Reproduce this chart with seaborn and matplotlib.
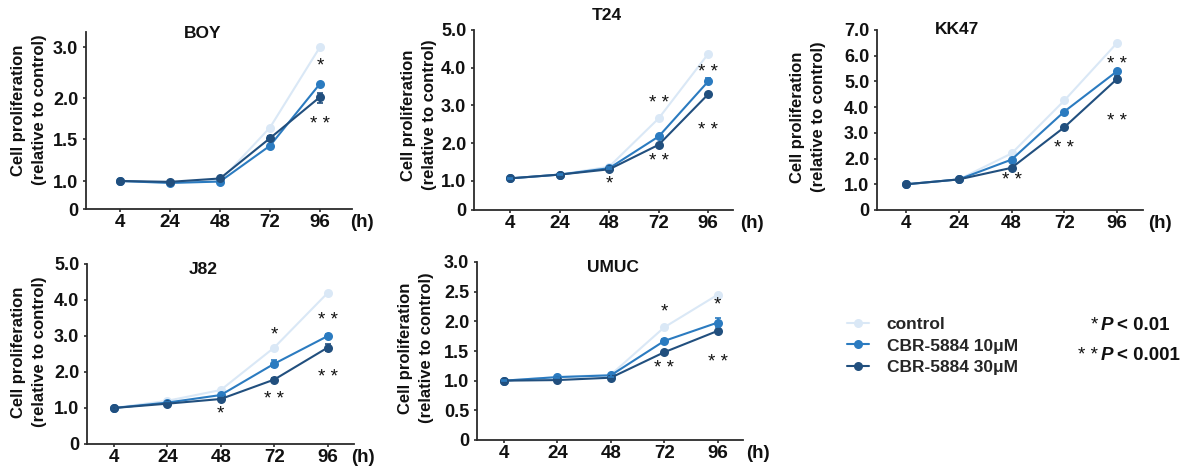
import numpy as np
import pandas as pd
import matplotlib
matplotlib.use("Agg")
import matplotlib.pyplot as plt
from matplotlib.lines import Line2D
import seaborn as sns

# ---------------- data ----------------
times = ["4", "24", "48", "72", "96"]
groups = ["control", "CBR-5884 10μM", "CBR-5884 30μM"]

boy_control = [1.00, 0.95, 1.00, 1.64, 3.00]
boy_10 = [1.00, 0.93, 0.98, 1.42, 2.28]
boy_30 = [1.00, 0.97, 1.03, 1.51, 2.02]
boy_err30 = [0.02, 0.02, 0.02, 0.03, 0.08]

t24_control = [1.07, 1.17, 1.38, 2.66, 4.37]
t24_10 = [1.07, 1.17, 1.34, 2.18, 3.64]
t24_30 = [1.07, 1.17, 1.31, 1.96, 3.30]
t24_err10 = [0.02, 0.02, 0.03, 0.05, 0.08]

kk47_control = [1.00, 1.19, 2.20, 4.26, 6.50]
kk47_10 = [1.00, 1.19, 1.96, 3.83, 5.40]
kk47_30 = [1.00, 1.19, 1.64, 3.22, 5.10]
kk47_err30 = [0.03, 0.03, 0.05, 0.06, 0.10]

j82_control = [1.00, 1.20, 1.50, 2.68, 4.20]
j82_10 = [1.00, 1.15, 1.36, 2.23, 3.00]
j82_30 = [1.00, 1.12, 1.25, 1.79, 2.68]
j82_err10 = [0.02, 0.02, 0.03, 0.10, 0.06]
j82_err30 = [0.02, 0.02, 0.03, 0.04, 0.10]

umuc_control = [1.00, 1.06, 1.10, 1.90, 2.45]
umuc_10 = [1.00, 1.06, 1.09, 1.67, 1.98]
umuc_30 = [1.00, 1.01, 1.05, 1.48, 1.84]
umuc_err10 = [0.01, 0.01, 0.02, 0.03, 0.07]

# significance marks: (time index, y value, text)
boy_sig = [(4, 2.62, "*"), (4, 1.68, "* *")]
t24_sig = [(2, 0.90, "*"), (3, 3.05, "* *"), (3, 1.51, "* *"), (4, 3.87, "* *"), (4, 2.35, "* *")]
kk47_sig = [(2, 1.13, "* *"), (3, 2.41, "* *"), (4, 5.64, "* *"), (4, 3.43, "* *")]
j82_sig = [(2, 0.83, "*"), (3, 3.04, "*"), (3, 1.25, "* *"), (4, 3.44, "* *"), (4, 1.86, "* *")]
umuc_sig = [(3, 2.16, "*"), (3, 1.20, "* *"), (4, 2.27, "*"), (4, 1.31, "* *")]

# ---------------- style ----------------
colors = ["#dae8f6", "#2b7bc0", "#214f7e"]
sns.set_theme(style="ticks")
plt.rcParams["font.family"] = ["Liberation Sans", "DejaVu Sans"]
plt.rcParams["font.weight"] = "bold"

W, H = 1191, 474
fig = plt.figure(figsize=(W / 100, H / 100), dpi=100)


def rect(l, t, r, b):
    return [l / W, 1 - b / H, (r - l) / W, (b - t) / H]


def piecewise(vals, pos):
    vals = np.asarray(vals, float)
    pos = np.asarray(pos, float)

    def fwd(v):
        return np.interp(v, vals, pos)

    def inv(p):
        return np.interp(p, pos, vals)

    return fwd, inv


panels = [
    dict(name="BOY", series=[boy_control, boy_10, boy_30], err={2: boy_err30},
         sig=boy_sig, rect=(86, 32, 352, 209), xlim=(-0.68, 4.64), ylim=(0, 3.3),
         yticks=[0, 1.0, 1.5, 2.0, 3.0],
         scale=([0, 1, 1.5, 2, 3, 3.3], [0, 28, 70, 111, 162, 177]),
         title_xy=(203, 33), label_xy=(29, 110), hx=4.84),
    dict(name="T24", series=[t24_control, t24_10, t24_30], err={1: t24_err10},
         sig=t24_sig, rect=(474, 30, 733, 210), xlim=(-0.73, 4.5), ylim=(0, 5.0),
         yticks=[0, 1.0, 2.0, 3.0, 4.0, 5.0],
         scale=([0, 1, 5], [0, 29, 180]),
         title_xy=(607, 16), label_xy=(419, 115), hx=4.89),
    dict(name="KK47", series=[kk47_control, kk47_10, kk47_30], err={2: kk47_err30},
         sig=kk47_sig, rect=(877, 30, 1143, 210), xlim=(-0.55, 4.49), ylim=(0, 7.0),
         yticks=[0, 1.0, 2.0, 3.0, 4.0, 5.0, 6.0, 7.0], scale=None,
         title_xy=(957, 29), label_xy=(808, 117), hx=4.82),
    dict(name="J82", series=[j82_control, j82_10, j82_30], err={1: j82_err10, 2: j82_err30},
         sig=j82_sig, rect=(87, 264, 354, 444), xlim=(-0.5, 4.49), ylim=(0, 5.0),
         yticks=[0, 1.0, 2.0, 3.0, 4.0, 5.0], scale=None,
         title_xy=(203, 270), label_xy=(29, 352), hx=4.65),
    dict(name="UMUC", series=[umuc_control, umuc_10, umuc_30], err={1: umuc_err10},
         sig=umuc_sig, rect=(477, 262, 743, 440), xlim=(-0.5, 4.47), ylim=(0, 3.0),
         yticks=[0, 0.5, 1.0, 1.5, 2.0, 2.5, 3.0], scale=None,
         title_xy=(613, 267), label_xy=(416, 348), hx=4.75),
]

spine_c = "#2b2b2b"
for p in panels:
    ax = fig.add_axes(rect(*p["rect"]))
    if p["scale"] is not None:
        fwd, inv = piecewise(*p["scale"])
        ax.set_yscale("function", functions=(fwd, inv))
    rows = []
    for g, vals in zip(groups, p["series"]):
        for i, v in enumerate(vals):
            rows.append({"idx": i, "value": v, "group": g})
    df = pd.DataFrame(rows)
    sns.lineplot(data=df, x="idx", y="value", hue="group", hue_order=groups,
                 palette=colors, marker="o", markersize=6.5, markeredgewidth=0,
                 linewidth=1.5, legend=False, ax=ax, errorbar=None)
    for gi, e in p["err"].items():
        ax.errorbar(range(len(times)), p["series"][gi], yerr=e, fmt="none",
                    ecolor=colors[gi], elinewidth=1.3, capsize=2, capthick=1.2, zorder=5)
    for (xi, yv, txt) in p["sig"]:
        ax.text(xi, yv, txt, ha="center", va="center", fontsize=13.5,
                fontweight="normal", color="#111111")
    ax.set_xlim(*p["xlim"])
    ax.set_ylim(*p["ylim"])
    ax.set_xticks(range(len(times)))
    ax.set_xticklabels(times, fontsize=13.5, fontweight="bold")
    ax.set_yticks(p["yticks"])
    ax.set_yticklabels(["0" if t == 0 else f"{t:.1f}" for t in p["yticks"]],
                       fontsize=13, fontweight="bold")
    ax.yaxis.set_minor_locator(matplotlib.ticker.NullLocator())
    ax.set_xlabel("")
    ax.set_ylabel("")
    for s in ["top", "right"]:
        ax.spines[s].set_visible(False)
    for s in ["left", "bottom"]:
        ax.spines[s].set_linewidth(1.3)
        ax.spines[s].set_color(spine_c)
    ax.tick_params(axis="x", length=2.5, width=1.2, pad=1, color=spine_c, colors="#111111")
    ax.tick_params(axis="y", length=2.5, width=1.2, pad=3, color=spine_c, colors="#111111")
    ax.annotate("(h)", xy=(p["hx"], 0), xycoords=("data", "axes fraction"),
                xytext=(0, -3.5), textcoords="offset points", ha="center", va="top",
                fontsize=13.5, fontweight="bold", color="#111111", annotation_clip=False)
    tx, ty = p["title_xy"]
    fig.text(tx / W, 1 - ty / H, p["name"], ha="center", va="center",
             fontsize=12.5, fontweight="bold", color="#111111")
    lx, ly = p["label_xy"]
    fig.text(lx / W, 1 - ly / H, "Cell proliferation\n(relative to control)",
             rotation=90, ha="center", va="center", fontsize=12,
             fontweight="bold", color="#111111", linespacing=1.5, multialignment="center")

# legend
handles = [Line2D([0], [0], color=c, marker="o", markersize=6.5, markeredgewidth=0,
                  linewidth=1.5) for c in colors]
fig.legend(handles, groups, loc="center left",
           bbox_to_anchor=(838 / W, 1 - 346 / H), frameon=False,
           prop={"size": 12.5, "weight": "bold"}, handlelength=1.3,
           handletextpad=1.0, labelspacing=0.35, borderpad=0)

# p-value notes
for y, star, ptxt in [(325, "*", "< 0.01"), (355, "* *", "< 0.001")]:
    fig.text(1098 / W, 1 - y / H, star, ha="right", va="center", fontsize=13.5,
             fontweight="normal", color="#111111")
    fig.text(1101 / W, 1 - y / H, "P", ha="left", va="center", fontsize=13.5,
             fontweight="bold", fontstyle="italic", color="#111111")
    fig.text(1117 / W, 1 - y / H, ptxt, ha="left", va="center", fontsize=13.5,
             fontweight="bold", color="#111111")

fig.savefig("out.png", dpi=100)
